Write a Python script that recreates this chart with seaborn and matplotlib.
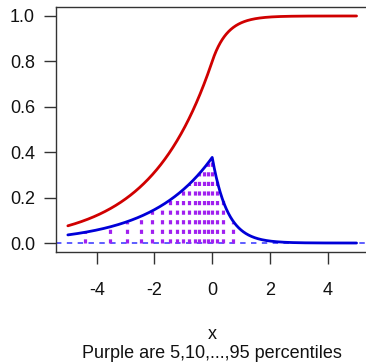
import numpy as np
import pandas as pd
import matplotlib
matplotlib.use("Agg")
import matplotlib.pyplot as plt
import seaborn as sns

# ---- data: asymmetric Laplace distribution (location, scale, kappa) ----
x_start, x_end, x_step = -5.0, 5.0, 0.01
loc = 0.0
sigma = 1.5
kappa = 2.0
percentiles = [5, 10, 15, 20, 25, 30, 35, 40, 45, 50,
               55, 60, 65, 70, 75, 80, 85, 90, 95]
x_ticks = [-4, -2, 0, 2, 4]
y_ticks = [0.0, 0.2, 0.4, 0.6, 0.8, 1.0]
x_label = "x"
sub_title = "Purple are 5,10,...,95 percentiles"


def dalap(x):
    x = np.asarray(x, dtype=float)
    c = np.sqrt(2) / sigma * kappa / (1 + kappa ** 2)
    right = np.exp(-np.sqrt(2) * kappa / sigma * (x - loc))
    left = np.exp(-np.sqrt(2) / (sigma * kappa) * (loc - x))
    return c * np.where(x >= loc, right, left)


def palap(x):
    x = np.asarray(x, dtype=float)
    p0 = kappa ** 2 / (1 + kappa ** 2)
    left = p0 * np.exp(np.sqrt(2) / (sigma * kappa) * (x - loc))
    right = 1 - np.exp(-np.sqrt(2) * kappa / sigma * (x - loc)) / (1 + kappa ** 2)
    return np.where(x >= loc, right, left)


def qalap(p):
    p = np.asarray(p, dtype=float)
    p0 = kappa ** 2 / (1 + kappa ** 2)
    left = loc + sigma * kappa / np.sqrt(2) * np.log(np.clip(p, 1e-12, None) / p0)
    right = loc - sigma / (np.sqrt(2) * kappa) * np.log(np.clip((1 - p) * (1 + kappa ** 2), 1e-12, None))
    return np.where(p <= p0, left, right)


xs = np.arange(x_start, x_end + x_step / 2, x_step)
df = pd.DataFrame({"x": xs, "density": dalap(xs), "cdf": palap(xs)})
q = qalap(np.array(percentiles) / 100.0)
dq = dalap(q)

# ---- figure ----
sns.set_style("white")
plt.rcParams["font.family"] = ["Liberation Sans", "DejaVu Sans"]
FS = 13.0

W, H = 366, 364
fig = plt.figure(figsize=(W / 100, H / 100), dpi=100)
left_px, right_px, top_px, bottom_px = 56.3, 368.1, 6.9, 252.1
ax = fig.add_axes([left_px / W, 1 - bottom_px / H,
                   (right_px - left_px) / W, (bottom_px - top_px) / H])

# density
sns.lineplot(data=df, x="x", y="density", ax=ax, color="#0000D8", lw=2.0,
             estimator=None, sort=False)
# dashed zero line
ax.axhline(0, color="#5050FF", lw=1.3, linestyle=(0, (3, 3)), zorder=1)
# percentile verticals
ax.vlines(q, 0, dq, colors="#A020F0", lw=2.3, linestyles=[(0, (1.3, 1.7))], zorder=1.5)
# cdf
sns.lineplot(data=df, x="x", y="cdf", ax=ax, color="#D00000", lw=2.0,
             estimator=None, sort=False)

ax.set_xlim(-5.4, 5.4)
ax.set_ylim(-0.04, 1.04)
ax.set_xticks(x_ticks)
ax.set_xticklabels([str(t) for t in x_ticks])
ax.set_yticks(y_ticks)
ax.set_yticklabels([f"{t:.1f}" for t in y_ticks])
ax.set_xlabel("")
ax.set_ylabel("")

for s in ["left", "top", "bottom", "right"]:
    ax.spines[s].set_color("#333333")
    ax.spines[s].set_linewidth(1.0)

ax.tick_params(axis="both", which="major", direction="out", length=8.3,
               width=1.0, color="#333333", labelsize=FS, labelcolor="#111111")
ax.tick_params(axis="x", pad=13.0, bottom=True)
ax.tick_params(axis="y", pad=7.0, left=True)

fig.text(212 / W, 1 - 339 / H, x_label, ha="center", va="baseline",
         fontsize=FS, color="#111111")
fig.text(212 / W, 1 - 358 / H, sub_title, ha="center", va="baseline",
         fontsize=FS, color="#111111")

fig.savefig("out.png", dpi=100)
